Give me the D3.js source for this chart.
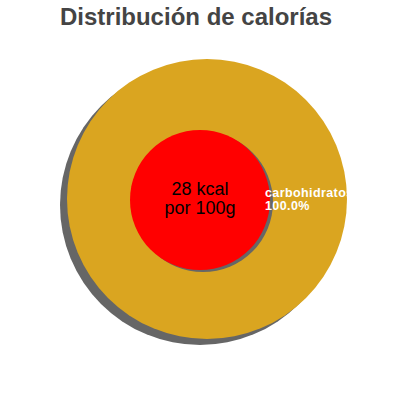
<!DOCTYPE html>
<html>
<head>
<meta charset="utf-8">
<script src="https://cdn.jsdelivr.net/npm/d3@7"></script>
<style>
  body { margin: 0; background: #fff; }
  text { font-family: "Liberation Sans", Arial, sans-serif; }
</style>
</head>
<body>
<div id="chart"></div>
<script>
// data
const categories = ["carbohidratos"];
const percents = [100.0];
const kcal = [28];
const centerLines = ["28 kcal", "por 100g"];
const colors = ["#DAA520"];

const width = 400, height = 400;

const svg = d3.select("#chart").append("svg")
  .attr("width", width)
  .attr("height", height);

// title
svg.append("text")
  .attr("x", 196)
  .attr("y", 25)
  .attr("text-anchor", "middle")
  .style("font-size", "24px")
  .style("font-weight", "bold")
  .style("fill", "#444")
  .text("Distribución de calorías");

const cx = 207, cy = 199, outerR = 140, innerR = 70;

const pie = d3.pie().sort(null)(percents);
const arc = d3.arc().innerRadius(0).outerRadius(outerR);

// outer shadow
svg.append("g")
  .attr("transform", `translate(${cx - 7},${cy + 6})`)
  .selectAll("path")
  .data(pie)
  .enter().append("path")
    .attr("d", arc)
    .style("fill", "#666");

// outer ring
svg.append("g")
  .attr("transform", `translate(${cx},${cy})`)
  .selectAll("path")
  .data(pie)
  .enter().append("path")
    .attr("d", arc)
    .style("fill", (d, i) => colors[i]);

// inner circle + shadow
const icx = 200, icy = 200;
svg.append("circle")
  .attr("cx", icx + 3)
  .attr("cy", icy + 2)
  .attr("r", innerR)
  .style("fill", "#666");
svg.append("circle")
  .attr("cx", icx)
  .attr("cy", icy)
  .attr("r", innerR)
  .style("fill", "#ff0000");

// center text
svg.append("g")
  .selectAll("text")
  .data(centerLines)
  .enter().append("text")
    .attr("x", icx)
    .attr("y", (d, i) => 195 + i * 19)
    .attr("text-anchor", "middle")
    .style("font-size", "18px")
    .style("fill", "#000")
    .text(d => d);

// slice label (white on white past the ring edge, as in the reference)
const lbl = svg.append("g").attr("transform", "translate(265,0)");
lbl.selectAll("text")
  .data([categories[0], percents[0].toFixed(1) + "%"])
  .enter().append("text")
    .attr("x", 0)
    .attr("y", (d, i) => 197 + i * 13)
    .style("font-size", "12.5px")
    .style("font-weight", "bold")
    .style("letter-spacing", "0.4px")
    .style("fill", "#fff")
    .text(d => d);
</script>
</body>
</html>
